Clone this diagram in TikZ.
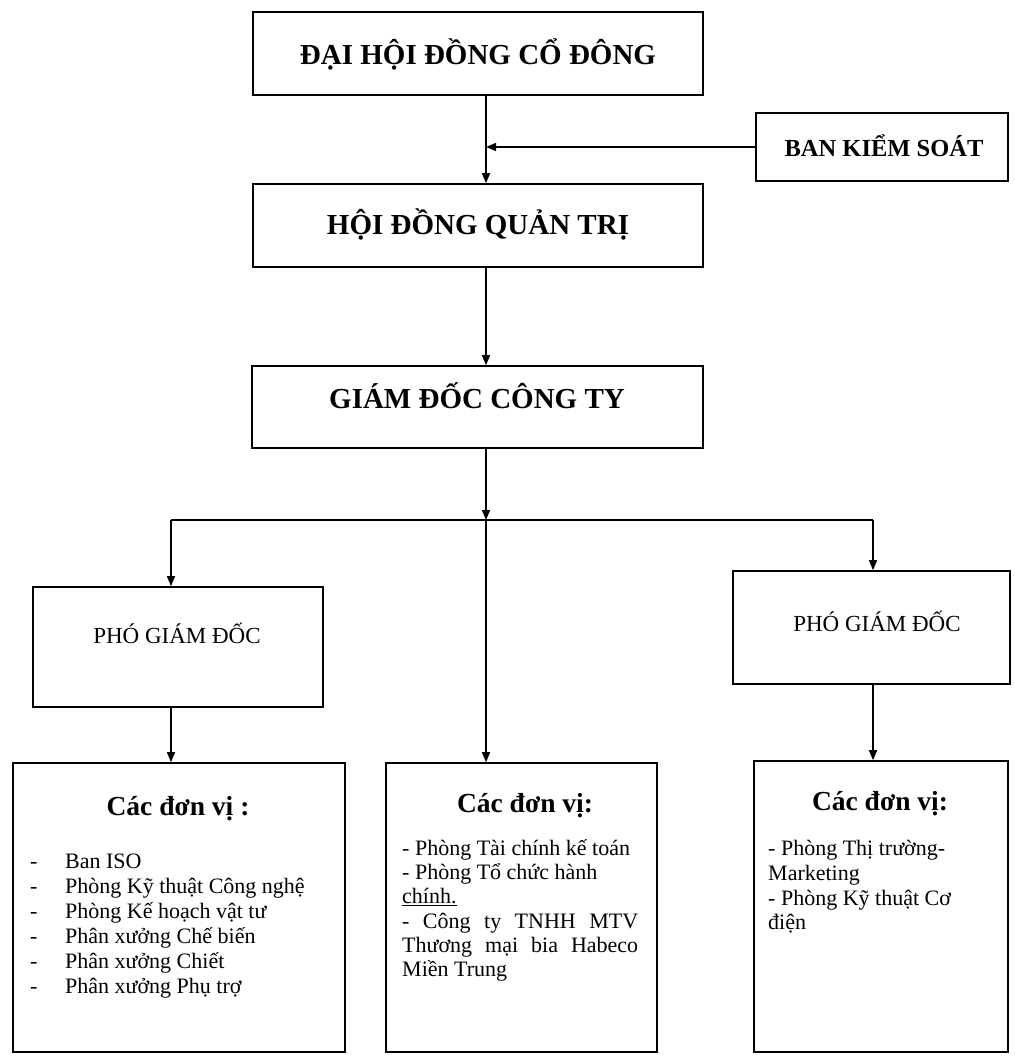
\documentclass[tikz,border=0pt]{standalone}
\usepackage{fontspec}
\setmainfont{Liberation Serif}
\usetikzlibrary{arrows.meta}
\begin{document}
\begin{tikzpicture}[x=1pt,y=-1pt,
  box/.style={draw, line width=1.6pt, inner sep=0pt},
  conn/.style={line width=1.4pt},
  arr/.style={line width=1.4pt, -{Triangle[length=10pt,width=8pt]}},
  lbl/.style={inner sep=0pt, anchor=base},
  item/.style={inner sep=0pt, anchor=base west, font=\fontsize{22}{24}\selectfont},
  bigtitle/.style={font=\fontsize{29}{32}\selectfont\bfseries},
  unittitle/.style={font=\fontsize{27.5}{30}\selectfont\bfseries},
  pgdfont/.style={font=\fontsize{23}{26}\selectfont}
]
\useasboundingbox (0,0) rectangle (1014,1056);

% boxes
\node[box, minimum width=450pt, minimum height=83pt] (dhd) at (478,53.5) {};
\node[box, minimum width=252pt, minimum height=68pt] (bks) at (882,147) {};
\node[box, minimum width=450pt, minimum height=83pt] (hdqt) at (478,225.5) {};
\node[box, minimum width=451pt, minimum height=82pt] (gd) at (477.5,407) {};
\node[box, minimum width=290pt, minimum height=120pt] (pgd1) at (178,647) {};
\node[box, minimum width=277pt, minimum height=113pt] (pgd2) at (871.5,627.5) {};
\node[box, minimum width=332pt, minimum height=289pt] (u1) at (179,907.5) {};
\node[box, minimum width=271pt, minimum height=289pt] (u2) at (521.5,907.5) {};
\node[box, minimum width=254pt, minimum height=291pt] (u3) at (881,906.5) {};

% labels
\node[lbl, bigtitle] (dhdt) at (478,65) {ĐẠI HỘI ĐỒNG CỔ ĐÔNG};
\node[lbl, font=\fontsize{24.5}{27}\selectfont\bfseries] (bkst) at (884,157) {BAN KIỂM SOÁT};
\node[lbl, bigtitle] (hdqtt) at (478,235) {HỘI ĐỒNG QUẢN TRỊ};
\node[lbl, bigtitle] (gdt) at (477,408) {GIÁM ĐỐC CÔNG TY};
\node[lbl, pgdfont] (pgd1t) at (177,643) {PHÓ GIÁM ĐỐC};
\node[lbl, pgdfont] (pgd2t) at (877,631) {PHÓ GIÁM ĐỐC};

\node[lbl, unittitle] (u1t) at (178,815) {Các đơn vị :};
\node[lbl, unittitle] (u2t) at (525,812) {Các đơn vị:};
\node[lbl, unittitle] (u3t) at (880,810) {Các đơn vị:};

% left unit items
\foreach \t [count=\i from 0] in {Ban ISO, Phòng Kỹ thuật Công nghệ, Phòng Kế hoạch vật tư, Phân xưởng Chế biến, Phân xưởng Chiết, Phân xưởng Phụ trợ}{
  \node[item] (l\i) at (30,868+25*\i) {\makebox[35pt][l]{-}\t};
}

% middle unit items
\node[item] (m0) at (402,855) {- Phòng Tài chính kế toán};
\node[item] (m1) at (402,879) {- Phòng Tổ chức hành};
\node[item] (m2) at (402,903) {\underline{chính.}};
\node[item] (m3) at (402,928) {\makebox[236pt][s]{- Công ty TNHH MTV}};
\node[item] (m4) at (402,952) {\makebox[236pt][s]{Thương mại bia Habeco}};
\node[item] (m5) at (402,976) {Miền Trung};

% right unit items
\node[item] (r0) at (768,855) {- Phòng Thị trường-};
\node[item] (r1) at (768,880) {Marketing};
\node[item] (r2) at (768,905) {- Phòng Kỹ thuật Cơ};
\node[item] (r3) at (768,929) {điện};

% connectors
\coordinate (sp) at (486,0);
\coordinate (j) at (486,520);
\coordinate (jl) at (171,520);
\coordinate (jr) at (873,520);
\draw[arr] (dhd.south -| sp) -- (hdqt.north -| sp);
\draw[arr] (bks.west) -- (bks.west -| sp);
\draw[arr] (hdqt.south -| sp) -- (gd.north -| sp);
\draw[arr] (gd.south -| sp) -- (j);
\draw[arr] (j) -- (u2.north -| j);
\draw[conn] (jl) -- (jr);
\draw[arr] (jl) -- (pgd1.north -| jl);
\draw[arr] (jr) -- (pgd2.north -| jr);
\draw[arr] (pgd1.south -| jl) -- (u1.north -| jl);
\draw[arr] (pgd2.south -| jr) -- (u3.north -| jr);
\end{tikzpicture}
\end{document}
